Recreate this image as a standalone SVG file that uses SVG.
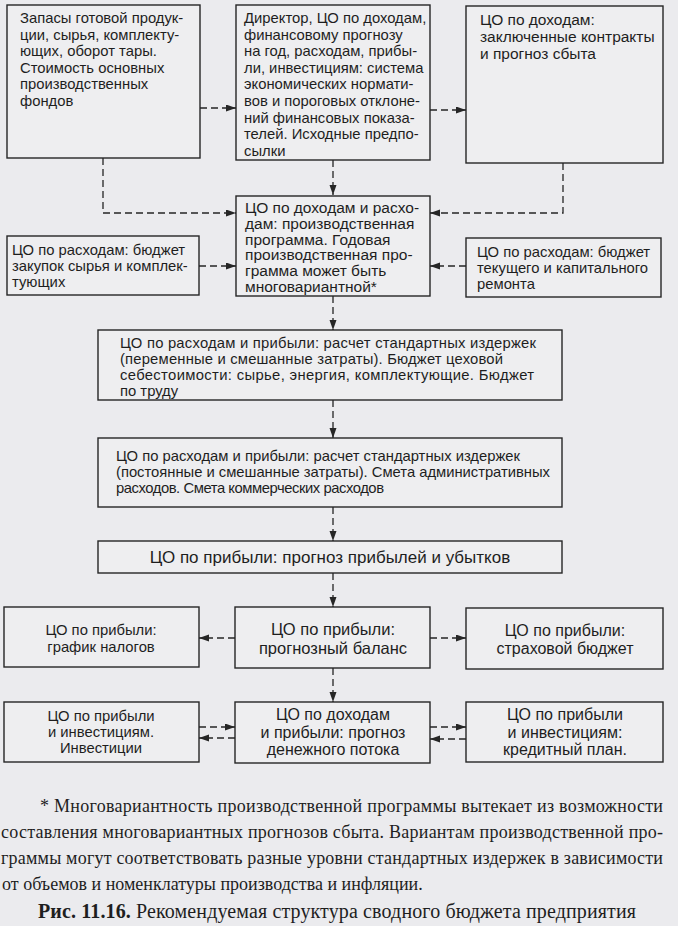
<svg xmlns="http://www.w3.org/2000/svg" width="678" height="926" viewBox="0 0 678 926">
<defs>
<style>
.bg{fill:#ebebee}
.box{fill:#eeeef0;stroke:#262626;stroke-width:1.4}
.t{font-family:"Liberation Sans",Arial,sans-serif;font-size:14.8px;fill:#1e1e1e}
.c{text-anchor:middle}
.f15{font-size:15.5px}
.f16{font-size:16px}
.f165{font-size:16.5px}
.f17{font-size:17px}
.ln{fill:none;stroke:#262626;stroke-width:1.3;stroke-dasharray:7 4}
.s{font-family:"Liberation Serif","Times New Roman",serif;font-size:18px;fill:#1e1e1e}
.cap{font-size:20px}
</style>
<marker id="ah" markerUnits="userSpaceOnUse" markerWidth="11" markerHeight="8" refX="10" refY="3.5" orient="auto">
<path d="M0,0 L10,3.5 L0,7 z" fill="#262626"/>
</marker>
</defs>
<rect class="bg" x="0" y="0" width="678" height="926"/>

<g id="connectors">
<line class="ln" x1="200" y1="108" x2="236" y2="108" marker-end="url(#ah)"/>
<line class="ln" x1="430" y1="110" x2="466" y2="110" marker-end="url(#ah)"/>
<line class="ln" x1="333" y1="160" x2="333" y2="195" marker-end="url(#ah)"/>
<polyline class="ln" points="103,158 103,213 236,213" marker-end="url(#ah)"/>
<polyline class="ln" points="563,163 563,213 430,213" marker-end="url(#ah)"/>
<line class="ln" x1="199" y1="266" x2="236" y2="266" marker-end="url(#ah)"/>
<line class="ln" x1="466" y1="266" x2="430" y2="266" marker-end="url(#ah)"/>
<line class="ln" x1="333" y1="296" x2="333" y2="330" marker-end="url(#ah)"/>
<line class="ln" x1="333" y1="400" x2="333" y2="438" marker-end="url(#ah)"/>
<line class="ln" x1="333" y1="507" x2="333" y2="541" marker-end="url(#ah)"/>
<line class="ln" x1="333" y1="573" x2="333" y2="607" marker-end="url(#ah)"/>
<line class="ln" x1="235" y1="638" x2="199" y2="638" marker-end="url(#ah)"/>
<line class="ln" x1="430" y1="638" x2="466" y2="638" marker-end="url(#ah)"/>
<line class="ln" x1="333" y1="668" x2="333" y2="702" marker-end="url(#ah)"/>
<line class="ln" x1="199" y1="727" x2="235" y2="727" marker-end="url(#ah)"/>
<line class="ln" x1="235" y1="738" x2="199" y2="738" marker-end="url(#ah)"/>
<line class="ln" x1="430" y1="727" x2="466" y2="727" marker-end="url(#ah)"/>
<line class="ln" x1="466" y1="739" x2="430" y2="739" marker-end="url(#ah)"/>
</g>

<g id="n1">
<rect class="box" x="7" y="5" width="193" height="153"/>
<text class="t" x="20" y="23">Запасы готовой продук-</text>
<text class="t" x="20" y="39.5">ции, сырья, комплекту-</text>
<text class="t" x="20" y="56">ющих, оборот тары.</text>
<text class="t" x="20" y="72.5">Стоимость основных</text>
<text class="t" x="20" y="89">производственных</text>
<text class="t" x="20" y="105.5">фондов</text>
</g>

<g id="n2">
<rect class="box" x="236" y="5" width="194" height="155"/>
<text class="t" x="244" y="23">Директор, ЦО по доходам,</text>
<text class="t" x="244" y="39.6">финансовому прогнозу</text>
<text class="t" x="244" y="56.2">на год, расходам, прибы-</text>
<text class="t" x="244" y="72.8">ли, инвестициям: система</text>
<text class="t" x="244" y="89.4">экономических нормати-</text>
<text class="t" x="244" y="106">вов и пороговых отклоне-</text>
<text class="t" x="244" y="122.6">ний финансовых показа-</text>
<text class="t" x="244" y="139.2">телей. Исходные предпо-</text>
<text class="t" x="244" y="155.8">сылки</text>
</g>

<g id="n3">
<rect class="box" x="466" y="6" width="197" height="157"/>
<text class="t f15" x="480" y="25">ЦО по доходам:</text>
<text class="t f15" x="480" y="41.8">заключенные контракты</text>
<text class="t f15" x="480" y="58.6">и прогноз сбыта</text>
</g>

<g id="n4">
<rect class="box" x="236" y="196" width="194" height="100"/>
<text class="t f15" x="245" y="213">ЦО по доходам и расхо-</text>
<text class="t f15" x="245" y="228.8">дам: производственная</text>
<text class="t f15" x="245" y="244.6">программа. Годовая</text>
<text class="t f15" x="245" y="260.4">производственная про-</text>
<text class="t f15" x="245" y="276.2">грамма может быть</text>
<text class="t f15" x="245" y="292">многовариантной*</text>
</g>

<g id="n5">
<rect class="box" x="7" y="236" width="192" height="59"/>
<text class="t" x="12" y="255">ЦО по расходам: бюджет</text>
<text class="t" x="12" y="271">закупок сырья и комплек-</text>
<text class="t" x="12" y="287">тующих</text>
</g>

<g id="n6">
<rect class="box" x="466" y="238" width="195" height="59"/>
<text class="t" x="477" y="257">ЦО по расходам: бюджет</text>
<text class="t" x="477" y="273">текущего и капитального</text>
<text class="t" x="477" y="289">ремонта</text>
</g>

<g id="n7">
<rect class="box" x="98" y="330" width="464" height="70"/>
<text class="t" x="120" y="348" textLength="416">ЦО по расходам и прибыли: расчет стандартных издержек</text>
<text class="t" x="120" y="364" textLength="383">(переменные и смешанные затраты). Бюджет цеховой</text>
<text class="t" x="120" y="380" textLength="414">себестоимости: сырье, энергия, комплектующие. Бюджет</text>
<text class="t" x="120" y="396">по труду</text>
</g>

<g id="n8">
<rect class="box" x="98" y="438" width="464" height="69"/>
<text class="t" x="116" y="461" textLength="404">ЦО по расходам и прибыли: расчет стандартных издержек</text>
<text class="t" x="116" y="477" textLength="434">(постоянные и смешанные затраты). Смета административных</text>
<text class="t" x="116" y="493" textLength="268">расходов. Смета коммерческих расходов</text>
</g>

<g id="n9">
<rect class="box" x="98" y="541" width="464" height="32"/>
<text class="t c f17" x="330" y="563">ЦО по прибыли: прогноз прибылей и убытков</text>
</g>

<g id="n10">
<rect class="box" x="4" y="607" width="195" height="60"/>
<text class="t c" x="101" y="635">ЦО по прибыли:</text>
<text class="t c" x="101" y="652">график налогов</text>
</g>

<g id="n11">
<rect class="box" x="235" y="607" width="195" height="61"/>
<text class="t c f165" x="333" y="635">ЦО по прибыли:</text>
<text class="t c f165" x="333" y="654">прогнозный баланс</text>
</g>

<g id="n12">
<rect class="box" x="466" y="608" width="197" height="61"/>
<text class="t c f16" x="565" y="636">ЦО по прибыли:</text>
<text class="t c f16" x="565" y="654">страховой бюджет</text>
</g>

<g id="n13">
<rect class="box" x="4" y="702" width="195" height="60"/>
<text class="t c" x="101" y="721">ЦО по прибыли</text>
<text class="t c" x="101" y="737">и инвестициям.</text>
<text class="t c" x="101" y="753">Инвестиции</text>
</g>

<g id="n14">
<rect class="box" x="235" y="702" width="195" height="61"/>
<text class="t c f16" x="333" y="720">ЦО по доходам</text>
<text class="t c f16" x="333" y="737.5">и прибыли: прогноз</text>
<text class="t c f16" x="333" y="755">денежного потока</text>
</g>

<g id="n15">
<rect class="box" x="466" y="702" width="197" height="60"/>
<text class="t c f16" x="565" y="720">ЦО по прибыли</text>
<text class="t c f16" x="565" y="737.5">и инвестициям:</text>
<text class="t c f16" x="565" y="755">кредитный план.</text>
</g>

<g id="notes">
<text class="s" x="40" y="812" textLength="623">* Многовариантность производственной программы вытекает  из возможности</text>
<text class="s" x="1" y="838" textLength="662">составления многовариантных прогнозов сбыта. Вариантам производственной про-</text>
<text class="s" x="1" y="864" textLength="662">граммы могут соответствовать разные уровни стандартных издержек в зависимости</text>
<text class="s" x="2" y="890">от объемов и номенклатуры производства и инфляции.</text>
<text class="s cap" x="38" y="918" textLength="598"><tspan font-weight="bold">Рис. 11.16.</tspan> Рекомендуемая структура сводного бюджета предприятия</text>
</g>
</svg>
